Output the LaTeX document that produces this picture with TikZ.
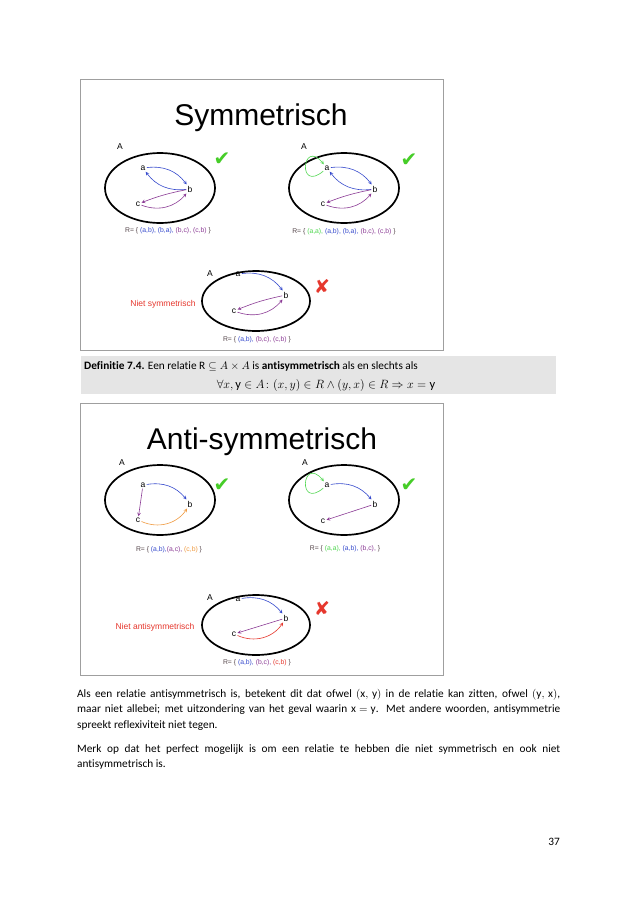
\documentclass[tikz,border=0pt]{standalone}
\usepackage{amsmath,amssymb}
\usepackage{fontspec}
\setmainfont{Carlito}[Ligatures=CommonOff]
\newfontfamily\slidefont{Liberation Sans}
\newfontfamily\glyphfont{DejaVu Sans}

\definecolor{relblue}{RGB}{55,75,205}
\definecolor{relpurple}{RGB}{140,60,150}
\definecolor{relgreen}{RGB}{80,215,80}
\definecolor{relorange}{RGB}{240,155,65}
\definecolor{relred}{RGB}{230,55,45}
\definecolor{relgray}{RGB}{85,70,75}
\definecolor{okgreen}{RGB}{70,205,40}
\definecolor{defgray}{RGB}{229,229,229}

\tikzset{
  slide/.style={draw=gray!75,line width=1pt},
  slidetitle/.style={font=\slidefont\fontsize{30}{32}\selectfont},
  setrim/.style={line width=1.7pt},
  elem/.style={font=\slidefont\fontsize{8.5}{10}\selectfont,inner sep=1.2pt},
  setname/.style={font=\slidefont\fontsize{8.5}{10}\selectfont,inner sep=0pt},
  rel/.style={font=\slidefont\fontsize{6.8}{8}\selectfont,text=relgray,inner sep=0pt},
  nietlabel/.style={font=\slidefont\fontsize{8.5}{10}\selectfont,text=relred,inner sep=0pt},
  okmark/.style={font=\glyphfont\fontsize{20}{20}\selectfont,text=okgreen,inner sep=0pt},
  nomark/.style={font=\glyphfont\fontsize{19}{19}\selectfont,text=relred,inner sep=0pt},
  arr/.style={->,>=stealth,line width=0.6pt},
  selfloop/.style={arr,relgreen,out=220,in=130,min distance=34pt},
  bodytext/.style={anchor=north west,inner sep=0pt,text width=483pt,align=justify,
    font=\fontsize{11.3}{15.5}\selectfont}
}

\begin{document}
\begin{tikzpicture}[x=1pt,y=-1pt]
\useasboundingbox (0,0) rectangle (636,900);
\fill[white] (0,0) rectangle (636,900);

% eerste dia: symmetrisch
\draw[slide] (80,79) rectangle (443,350);
\node[slidetitle] (symtitle) at (261,118) {Symmetrisch};

\draw[setrim] (160,188) ellipse [x radius=55,y radius=35];
\node[setname] (sA1) at (120,147) {A};
\node[elem] (a1) at (143,168) {a};
\node[elem] (b1) at (190,189) {b};
\node[elem] (c1) at (138,204) {c};
\draw[arr,relblue] (a1) to[bend left=30] (b1);
\draw[arr,relblue] (b1) to[bend left=30] (a1);
\draw[arr,relpurple] (b1) to[bend right=5] (c1);
\draw[arr,relpurple] (c1) to[bend right=35] (b1);
\node[okmark] (ok1) at (222,159) {✔};
\node[rel] (R1) at (168,231) {R= \{ \textcolor{relblue}{(a,b), (b,a),} \textcolor{relpurple}{(b,c), (c,b)} \}};

\draw[setrim] (344,188) ellipse [x radius=55,y radius=35];
\node[setname] (sA2) at (304,147) {A};
\node[elem] (a2) at (327,168) {a};
\node[elem] (b2) at (375,189) {b};
\node[elem] (c2) at (323,204) {c};
\draw[selfloop] (a2) to (a2);
\draw[arr,relblue] (a2) to[bend left=30] (b2);
\draw[arr,relblue] (b2) to[bend left=30] (a2);
\draw[arr,relpurple] (b2) to[bend right=5] (c2);
\draw[arr,relpurple] (c2) to[bend right=35] (b2);
\node[okmark] (ok2) at (409,160) {✔};
\node[rel] (R2) at (344,232) {R= \{ \textcolor{relgreen}{(a,a),} \textcolor{relblue}{(a,b), (b,a),} \textcolor{relpurple}{(b,c), (c,b)} \}};

\draw[setrim] (256,301) ellipse [x radius=54,y radius=30];
\node[setname] (sA3) at (210,274) {A};
\node[elem] (a3) at (238,274) {a};
\node[elem] (b3) at (286,295) {b};
\node[elem] (c3) at (234,311) {c};
\draw[arr,relblue] (a3) to[bend left=30] (b3);
\draw[arr,relpurple] (b3) to[bend right=5] (c3);
\draw[arr,relpurple] (c3) to[bend right=35] (b3);
\node[nomark] (no1) at (322,286) {✘};
\node[nietlabel] (niet1) at (163,304) {Niet symmetrisch};
\node[rel] (R3) at (257,340) {R= \{ \textcolor{relblue}{(a,b),} \textcolor{relpurple}{(b,c), (c,b)} \}};

% definitie
\fill[defgray] (81,356) rectangle (556,394);
\node[anchor=base west,inner sep=0pt,font=\fontsize{11.3}{13}\selectfont] (def1) at (84,369)
  {\textbf{Definitie 7.4.} Een relatie $\mathrm{R}\subseteq A\times A$ is \textbf{antisymmetrisch} als en slechts als};
\node[anchor=base,inner sep=0pt,font=\fontsize{12.5}{14}\selectfont] (def2) at (326,388)
  {$\forall x,\mathrm{y}\in A\colon(x,y)\in R\wedge(y,x)\in R\Rightarrow x=\mathrm{y}$};

% tweede dia: anti-symmetrisch
\draw[slide] (80,403) rectangle (443,675);
\node[slidetitle] (antititle) at (262,442) {Anti-symmetrisch};

\draw[setrim] (160,500) ellipse [x radius=55,y radius=35];
\node[setname] (sA4) at (122,463) {A};
\node[elem] (a4) at (143,485) {a};
\node[elem] (b4) at (190,504) {b};
\node[elem] (c4) at (138,520) {c};
\draw[arr,relblue] (a4) to[bend left=30] (b4);
\draw[arr,relpurple] (a4) -- (c4);
\draw[arr,relorange] (c4) to[bend right=40] (b4);
\node[okmark] (ok3) at (222,485) {✔};
\node[rel] (R4) at (169,550) {R= \{ \textcolor{relblue}{(a,b),}\textcolor{relpurple}{(a,c),} \textcolor{relorange}{(c,b)} \}};

\draw[setrim] (344,500) ellipse [x radius=55,y radius=35];
\node[setname] (sA5) at (305,463) {A};
\node[elem] (a5) at (327,485) {a};
\node[elem] (b5) at (375,504) {b};
\node[elem] (c5) at (323,521) {c};
\draw[selfloop] (a5) to (a5);
\draw[arr,relblue] (a5) to[bend left=30] (b5);
\draw[arr,relpurple] (b5) -- (c5);
\node[okmark] (ok4) at (409,485) {✔};
\node[rel] (R5) at (345,549) {R= \{ \textcolor{relgreen}{(a,a),} \textcolor{relblue}{(a,b),} \textcolor{relpurple}{(b,c),} \}};

\draw[setrim] (256,625) ellipse [x radius=54,y radius=30];
\node[setname] (sA6) at (210,598) {A};
\node[elem] (a6) at (238,599) {a};
\node[elem] (b6) at (286,618) {b};
\node[elem] (c6) at (234,634) {c};
\draw[arr,relblue] (a6) to[bend left=30] (b6);
\draw[arr,relpurple] (b6) -- (c6);
\draw[arr,relred] (c6) to[bend right=40] (b6);
\node[nomark] (no2) at (322,608) {✘};
\node[nietlabel] (niet2) at (155,627) {Niet antisymmetrisch};
\node[rel] (R6) at (257,663) {R= \{ \textcolor{relblue}{(a,b),} \textcolor{relpurple}{(b,c),} \textcolor{relred}{(c,b)} \}};

% lopende tekst
\node[bodytext] (par1) at (77,689) {Als een relatie antisymmetrisch is, betekent dit dat ofwel $(\mathrm{x},\,\mathrm{y})$ in de relatie kan zitten, ofwel $(\mathrm{y},\,\mathrm{x})$,\linebreak
maar niet allebei; met uitzondering van het geval waarin $\mathrm{x}\mskip5mu{=}\mskip5mu\mathrm{y}$. Met andere woorden, antisymmetrie\linebreak
spreekt reflexiviteit niet tegen.};
\node[bodytext] (par2) at (77,744) {Merk op dat het perfect mogelijk is om een relatie te hebben die niet symmetrisch en ook niet\linebreak
antisymmetrisch is.};
\node[anchor=base east,inner sep=0pt,font=\fontsize{11.3}{13}\selectfont] (pnum) at (560,845) {37};
\end{tikzpicture}
\end{document}
